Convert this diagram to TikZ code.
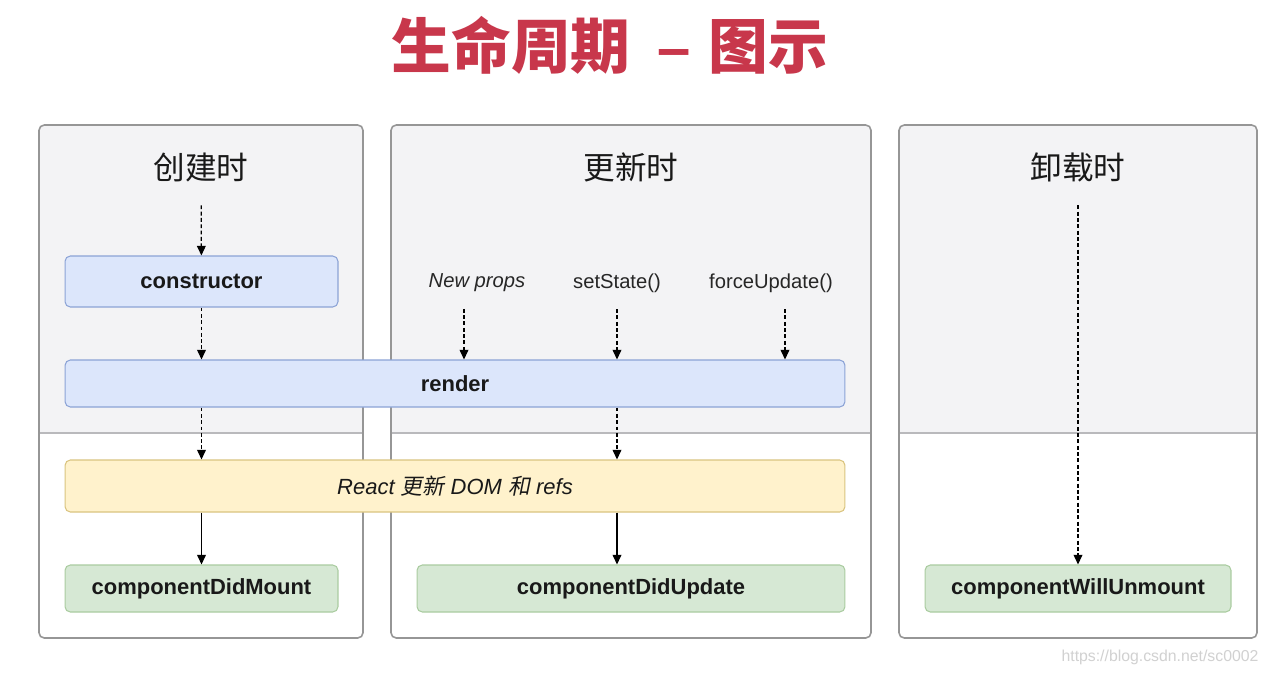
\documentclass[tikz,border=0pt]{standalone}
\usepackage{fontspec}
\setmainfont{Liberation Sans}
\newfontfamily\cjk{Noto Sans CJK SC}
\newfontfamily\cjkit{Noto Sans CJK SC}[FakeSlant=0.2]
\usepackage{tikz}
\usetikzlibrary{arrows.meta}
\definecolor{titlered}{RGB}{200,55,75}
\definecolor{panelgray}{RGB}{243,243,245}
\definecolor{panelline}{RGB}{150,150,150}
\definecolor{divline}{RGB}{185,185,188}
\definecolor{blueFill}{RGB}{220,230,251}
\definecolor{blueLine}{RGB}{140,163,214}
\definecolor{yellowFill}{RGB}{255,242,204}
\definecolor{yellowLine}{RGB}{218,196,128}
\definecolor{greenFill}{RGB}{214,232,212}
\definecolor{greenLine}{RGB}{170,204,160}

\begin{document}
\begin{tikzpicture}[x=0.02cm, y=-0.02cm,
    stage/.style={rounded corners=3pt, line width=0.6pt, inner sep=0pt,
      font=\fontsize{12.5}{14}\selectfont\bfseries, text=black!90},
    bluestage/.style={stage, draw=blueLine, fill=blueFill},
    yellowstage/.style={stage, draw=yellowLine, fill=yellowFill},
    greenstage/.style={stage, draw=greenLine, fill=greenFill},
    phase/.style={font=\cjk\fontsize{18}{20}\selectfont, text=black!90},
    trigger/.style={font=\fontsize{11.5}{13}\selectfont, text=black!85},
    dasharr/.style={-{Triangle[length=5.5pt,width=5pt]}, line width=0.7pt,
      dash pattern=on 2.2pt off 1.4pt},
    solidarr/.style={-{Triangle[length=5.5pt,width=5pt]}, line width=0.7pt}]

  \useasboundingbox (0,0) rectangle (1267,676);
  \fill[white] (0,0) rectangle (1267,676);

  % Panels
  \foreach \l/\r in {39/363, 391/871, 899/1257} {
    \fill[panelgray, rounded corners=3pt] (\l,125) rectangle (\r,638);
    \fill[white] (\l,433) rectangle (\r,638);
    \draw[divline, line width=0.8pt] (\l,433) -- (\r,433);
    \draw[panelline, line width=0.9pt, rounded corners=3pt] (\l,125) rectangle (\r,638);
  }

  % Title
  \node[text=titlered, font=\bfseries\fontsize{34}{36}\selectfont] (title) at (610,45)
    {{\cjk 生命周期}\hspace{0.45em}–\hspace{0.3em}{\cjk 图示}};

  % Phases
  \node[phase] (create) at (201,167) {创建时};
  \node[phase] (renew) at (631,167) {更新时};
  \node[phase] (remove) at (1078,167) {卸载时};

  % Triggers
  \node[trigger] (props) at (477,283) {\itshape New props};
  \node[trigger] (state) at (617,283) {setState()};
  \node[trigger] (force) at (771,283) {forceUpdate()};

  % Stages
  \node[bluestage, minimum width=5.46cm, minimum height=1.02cm] (ctor) at (201.5,281.5) {constructor};
  \node[bluestage, minimum width=15.6cm, minimum height=0.94cm] (render) at (455,383.5) {render};
  \node[yellowstage, minimum width=15.6cm, minimum height=1.04cm, font=\fontsize{12.5}{14}\selectfont\itshape] (react) at (455,486)
    {React {\cjkit 更新} DOM {\cjkit 和} refs};
  \node[greenstage, minimum width=5.46cm, minimum height=0.94cm] (mount) at (201.5,588.5) {componentDidMount};
  \node[greenstage, minimum width=8.56cm, minimum height=0.94cm] (update) at (631,588.5) {componentDidUpdate};
  \node[greenstage, minimum width=6.12cm, minimum height=0.94cm] (unmount) at (1078,588.5) {componentWillUnmount};

  % Creation flow
  \draw[dasharr, shorten <=10pt] (create) -- (ctor);
  \draw[dasharr] (ctor) -- (ctor |- render.north);
  \draw[dasharr] (ctor |- render.south) -- (ctor |- react.north);
  \draw[solidarr] (ctor |- react.south) -- (mount);

  % Update flow
  \draw[dasharr, shorten <=6pt] ([xshift=-0.26cm]props.south) -- ([xshift=-0.26cm]props.south |- render.north);
  \draw[dasharr, shorten <=6pt] (state) -- (state |- render.north);
  \draw[dasharr, shorten <=6pt] ([xshift=0.28cm]force.south) -- ([xshift=0.28cm]force.south |- render.north);
  \draw[dasharr] (state |- render.south) -- (state |- react.north);
  \draw[solidarr] (state |- react.south) -- (state |- update.north);

  % Unmount flow
  \draw[dasharr, shorten <=10pt] (remove) -- (unmount);

  % Watermark
  \node[text=black!18, font=\fontsize{9}{10}\selectfont] (mark) at (1160,657) {https://blog.csdn.net/sc0002};
\end{tikzpicture}
\end{document}
